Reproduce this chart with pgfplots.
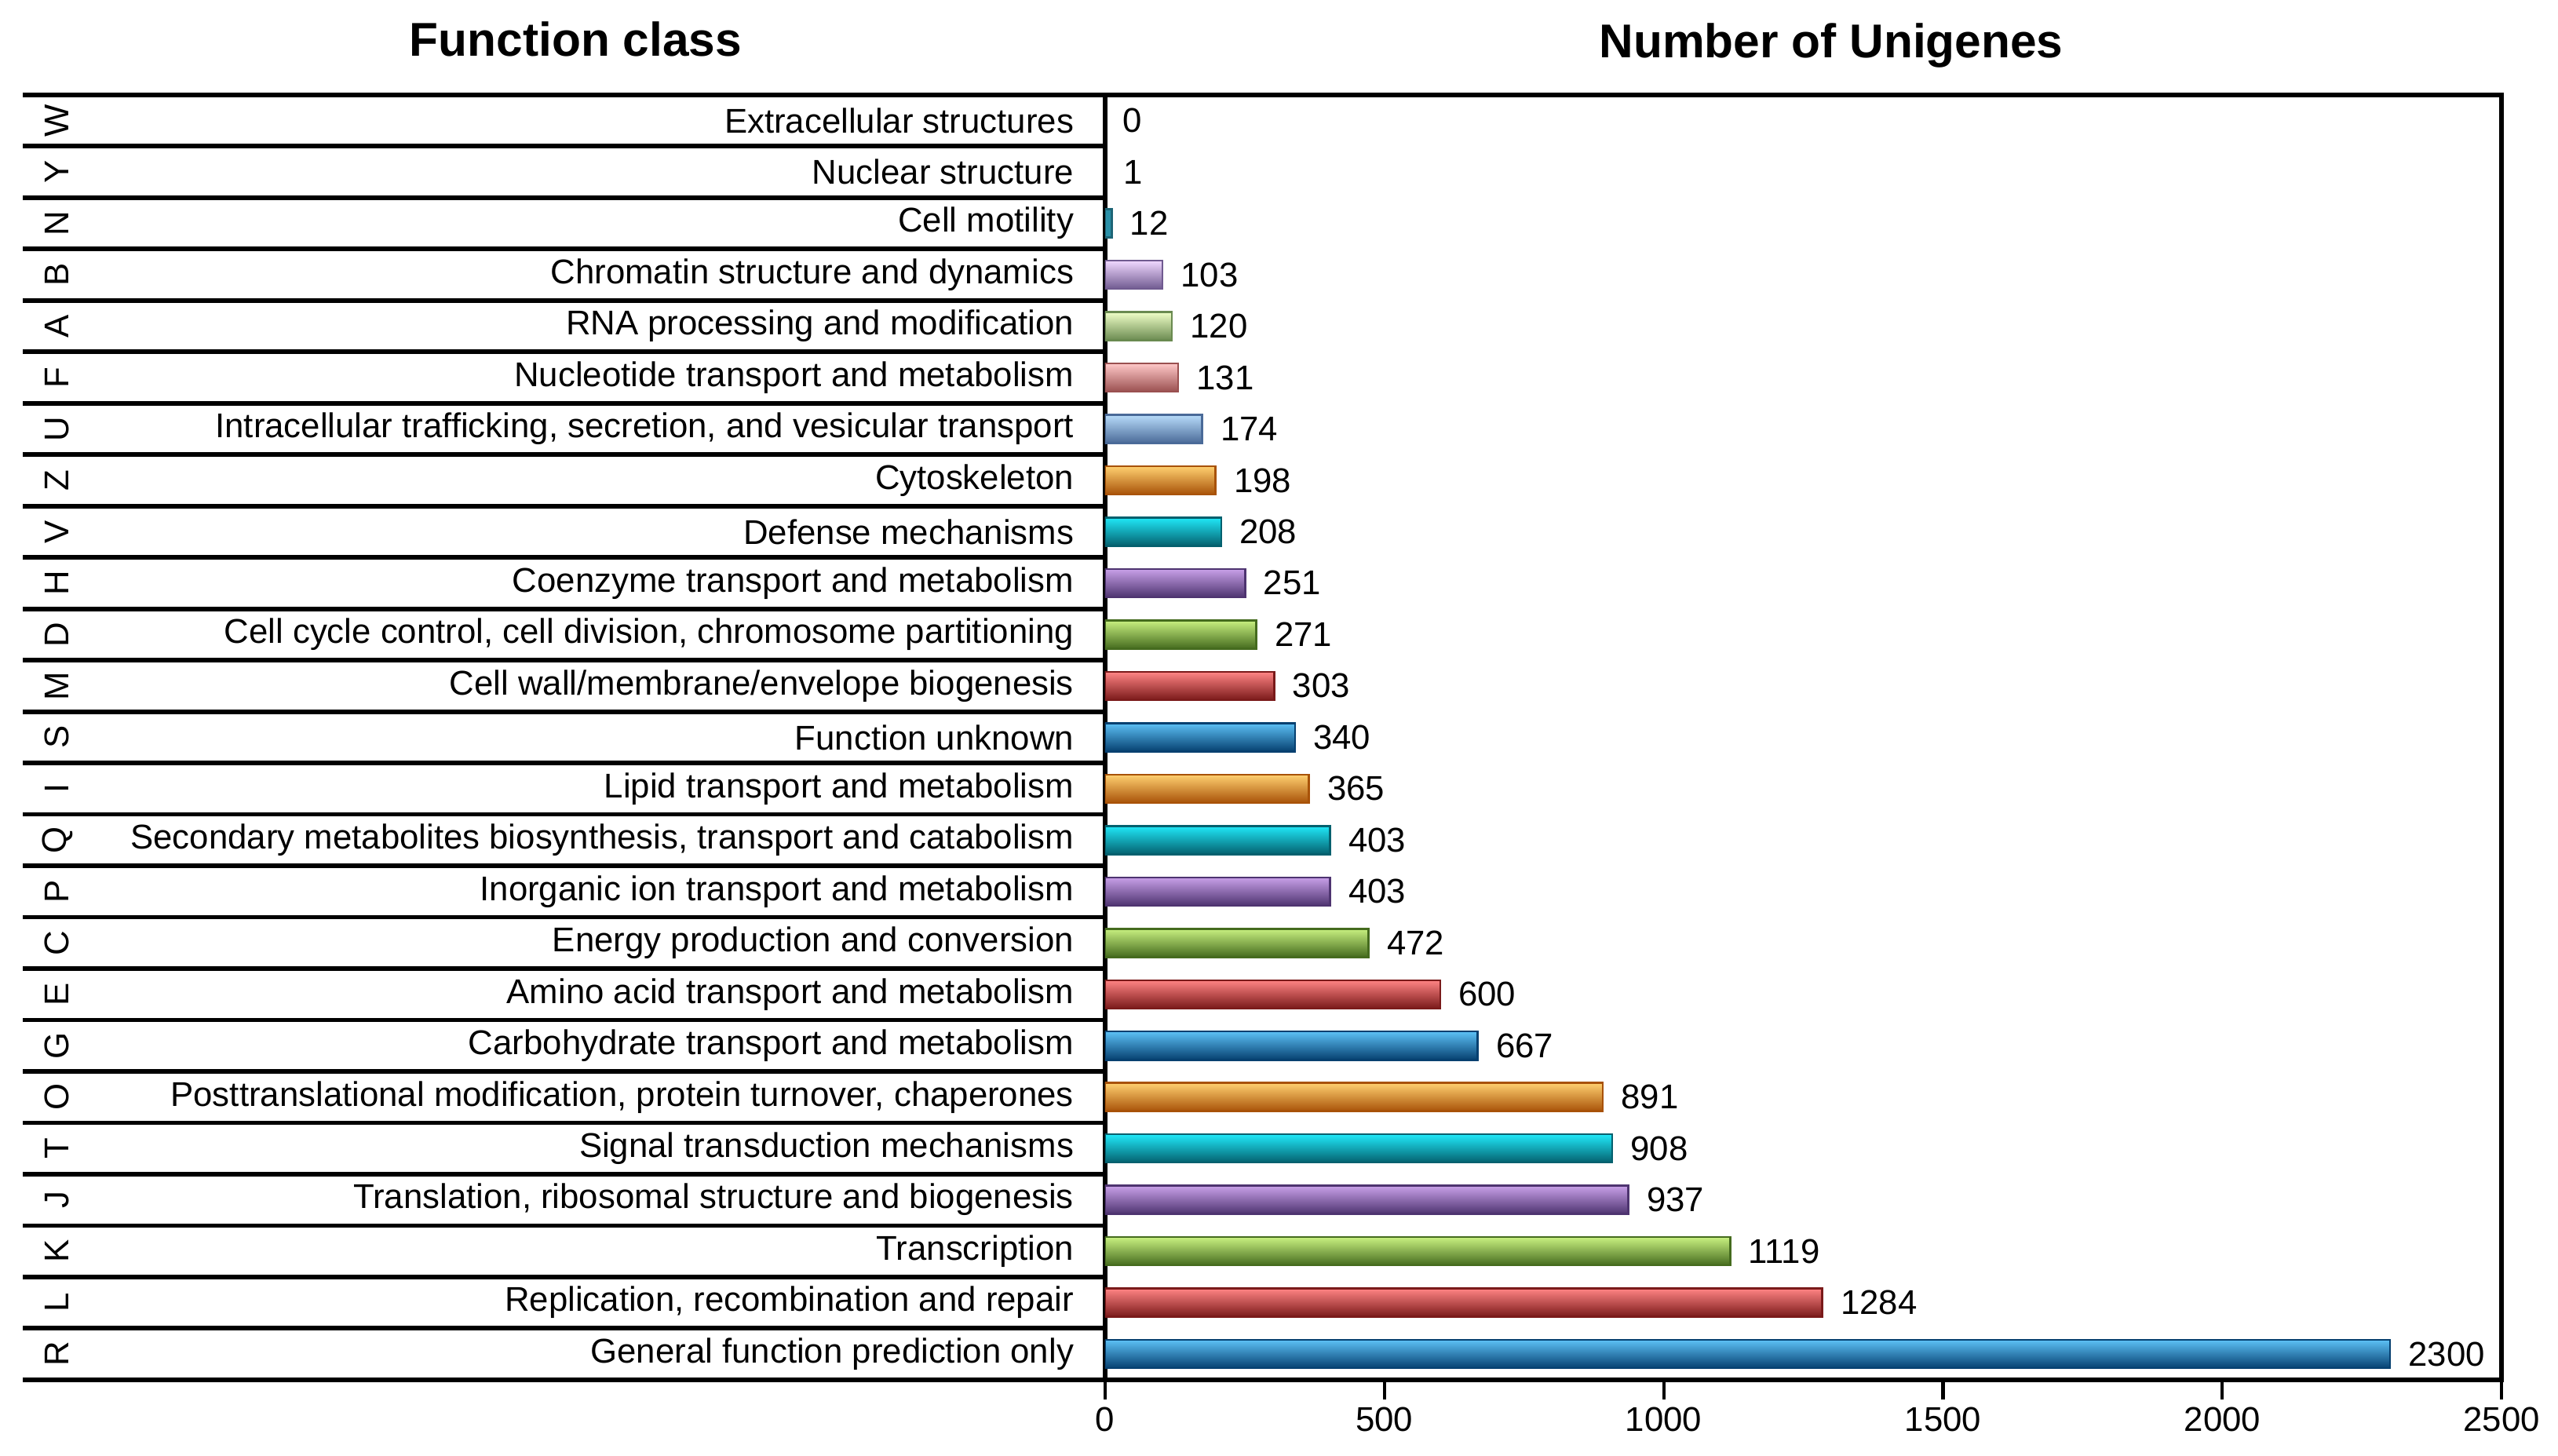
\documentclass[border=0pt]{standalone}
\usepackage{fontspec}
\setmainfont{Liberation Sans}
\usepackage{pgfplots}
\pgfplotsset{compat=1.18}

% bar colours: light top, main middle, dark bottom
\definecolor{bluL}{HTML}{5CC0F5}\definecolor{bluM}{HTML}{0A6BB0}\definecolor{bluD}{HTML}{064070}
\definecolor{redL}{HTML}{FF8484}\definecolor{redM}{HTML}{C02A2A}\definecolor{redD}{HTML}{7A1A1A}
\definecolor{grnL}{HTML}{C8F080}\definecolor{grnM}{HTML}{6A9E30}\definecolor{grnD}{HTML}{456B1E}
\definecolor{purL}{HTML}{C8A0E8}\definecolor{purM}{HTML}{77509E}\definecolor{purD}{HTML}{4E3470}
\definecolor{cyaL}{HTML}{20E8F8}\definecolor{cyaM}{HTML}{0898B0}\definecolor{cyaD}{HTML}{04606E}
\definecolor{oraL}{HTML}{FFD070}\definecolor{oraM}{HTML}{F07D12}\definecolor{oraD}{HTML}{A85208}
\definecolor{lbuL}{HTML}{B8DCFA}\definecolor{lbuM}{HTML}{6F96C8}\definecolor{lbuD}{HTML}{4A6A98}
\definecolor{lrdL}{HTML}{FFC8C8}\definecolor{lrdM}{HTML}{D87878}\definecolor{lrdD}{HTML}{9A5050}
\definecolor{lgrL}{HTML}{F0FFC8}\definecolor{lgrM}{HTML}{A0C080}\definecolor{lgrD}{HTML}{6A8A50}
\definecolor{lpuL}{HTML}{F0D8FF}\definecolor{lpuM}{HTML}{A088C0}\definecolor{lpuD}{HTML}{705A90}
\definecolor{tealM}{HTML}{2A90A8}

\pgfplotsset{
  cog/.style n args={3}{top color=#1, middle color=#2, bottom color=#3, draw=#3, line width=0.6pt},
  blu/.style={cog={bluL}{bluM}{bluD}},
  red/.style={cog={redL}{redM}{redD}},
  grn/.style={cog={grnL}{grnM}{grnD}},
  pur/.style={cog={purL}{purM}{purD}},
  cya/.style={cog={cyaL}{cyaM}{cyaD}},
  ora/.style={cog={oraL}{oraM}{oraD}},
}
\newcommand{\rl}[1]{\rotatebox{90}{#1}}

\begin{document}
\begin{tikzpicture}[font=\fontsize{10.5}{12.5}\selectfont]
\begin{axis}[
  name=main,
  scale only axis,
  width=427pt, height=392.8pt,
  xbar, bar width=0.55, bar shift=0pt,
  xmin=0, xmax=2500, ymin=-0.5, ymax=24.5,
  xtick={0,500,...,2500},
  ytick={0,...,24},
  yticklabels={General function prediction only,
    {Replication, recombination and repair},
    Transcription,
    {Translation, ribosomal structure and biogenesis},
    Signal transduction mechanisms,
    {Posttranslational modification, protein turnover, chaperones},
    Carbohydrate transport and metabolism,
    Amino acid transport and metabolism,
    Energy production and conversion,
    Inorganic ion transport and metabolism,
    {Secondary metabolites biosynthesis, transport and catabolism},
    Lipid transport and metabolism,
    Function unknown,
    Cell wall/membrane/envelope biogenesis,
    {Cell cycle control, cell division, chromosome partitioning},
    Coenzyme transport and metabolism,
    Defense mechanisms,
    Cytoskeleton,
    {Intracellular trafficking, secretion, and vesicular transport},
    Nucleotide transport and metabolism,
    RNA processing and modification,
    Chromatin structure and dynamics,
    Cell motility,
    Nuclear structure,
    Extracellular structures},
  xtick pos=lower, ytick pos=left,
  tick align=outside,
  major tick length=6pt,
  x tick style={black, line width=1pt},
  y tick style={draw=none},
  extra y ticks={-0.5,0.5,...,24.5},
  extra y tick labels={},
  extra y tick style={major tick length=330.8pt, y tick style={draw=black, line width=1.4pt}},
  axis line style={line width=1.4pt},
  /pgf/number format/assume math mode=true,
  /pgf/number format/1000 sep={},
  xticklabel style={yshift=1pt},
  nodes near coords,
  nodes near coords style={text=black, anchor=west, xshift=2pt},
  title={\bfseries Number of Unigenes},
  title style={at={(0.52,1)}, anchor=center, yshift=9pt, font=\fontsize{14.5}{17}\selectfont},
]
% one plot per bar so that each bar gets its own shading
\addplot[blu] coordinates {(2300,0)};
\addplot[red] coordinates {(1284,1)};
\addplot[grn] coordinates {(1119,2)};
\addplot[pur] coordinates {(937,3)};
\addplot[cya] coordinates {(908,4)};
\addplot[ora] coordinates {(891,5)};
\addplot[blu] coordinates {(667,6)};
\addplot[red] coordinates {(600,7)};
\addplot[grn] coordinates {(472,8)};
\addplot[pur] coordinates {(403,9)};
\addplot[cya] coordinates {(403,10)};
\addplot[ora] coordinates {(365,11)};
\addplot[blu] coordinates {(340,12)};
\addplot[red] coordinates {(303,13)};
\addplot[grn] coordinates {(271,14)};
\addplot[pur] coordinates {(251,15)};
\addplot[cya] coordinates {(208,16)};
\addplot[ora] coordinates {(198,17)};
\addplot[cog={lbuL}{lbuM}{lbuD}] coordinates {(174,18)};
\addplot[cog={lrdL}{lrdM}{lrdD}] coordinates {(131,19)};
\addplot[cog={lgrL}{lgrM}{lgrD}] coordinates {(120,20)};
\addplot[cog={lpuL}{lpuM}{lpuD}] coordinates {(103,21)};
\addplot[fill=tealM, draw=tealM!70!black, line width=0.6pt] coordinates {(12,22)};
\addplot[draw=none, fill=none] coordinates {(1,23) (0,24)};
\end{axis}
% letter column
\begin{axis}[
  at={(main.south west)}, anchor=south west,
  scale only axis,
  width=427pt, height=392.8pt,
  xmin=0, xmax=2500, ymin=-0.5, ymax=24.5,
  axis line style={draw=none},
  xtick=\empty,
  ytick={0,...,24},
  yticklabels={\rl{R},\rl{L},\rl{K},\rl{J},\rl{T},\rl{O},\rl{G},\rl{E},\rl{C},\rl{P},\rl{Q},\rl{I},\rl{S},
    \rl{M},\rl{D},\rl{H},\rl{V},\rl{Z},\rl{U},\rl{F},\rl{A},\rl{B},\rl{N},\rl{Y},\rl{W}},
  y tick style={draw=none},
  major tick length=0pt,
  yticklabel style={anchor=center, xshift=-320.3pt},
  title={\bfseries Function class},
  title style={at={(-0.3789,1)}, anchor=center, yshift=11pt, font=\fontsize{14.5}{17}\selectfont},
]
\end{axis}
\pgfresetboundingbox
\useasboundingbox ([shift={(-337.8pt,-23.2pt)}]main.south west) rectangle ([shift={(17.2pt,29pt)}]main.north east);
\end{tikzpicture}
\end{document}
